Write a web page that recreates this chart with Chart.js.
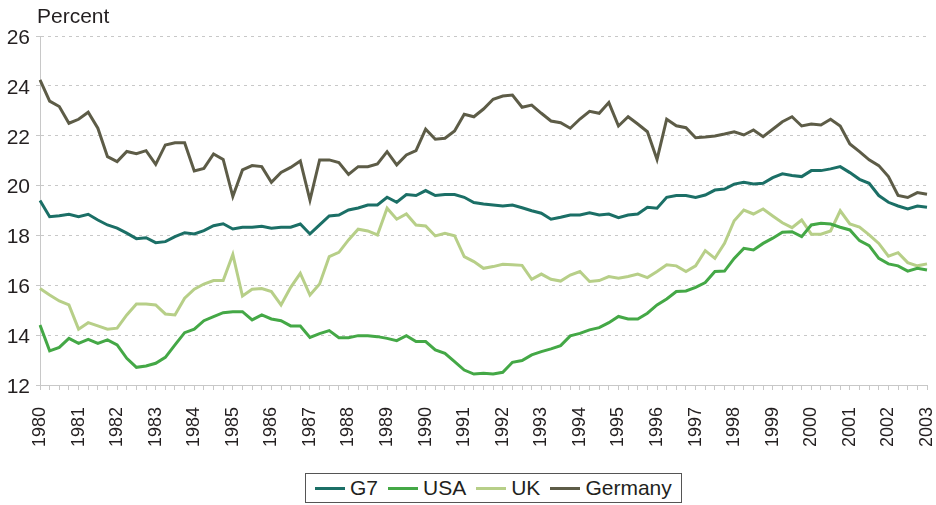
<!DOCTYPE html>
<html>
<head>
<meta charset="utf-8">
<script src="https://cdn.jsdelivr.net/npm/chart.js@4.4.1/dist/chart.umd.min.js"></script>
<style>
  html, body { margin: 0; padding: 0; background: #fff; }
  #wrap { width: 936px; height: 505px; position: relative; }
  .legenda {
    position: absolute; left: 305px; top: 473px; height: 30px; box-sizing: border-box;
    border: 1px solid #555; display: flex; align-items: center; gap: 10px; padding: 0 9px;
    font: 21px 'Liberation Sans', Arial, Helvetica, sans-serif; color: #231f20; background: #fff;
  }
  .legenda .item { display: flex; align-items: center; white-space: nowrap; }
  .legenda .linha { display: inline-block; width: 30px; height: 3px; margin-right: 5px; }
</style>
</head>
<body>
<div id="wrap">
  <canvas id="chart"></canvas>
  <div class="legenda" id="legenda"></div>
</div>
<script>
// Eixo x: trimestres de 1980T1 a 2003T1, rótulo só no primeiro trimestre
const anos = ['1980','1981','1982','1983','1984','1985','1986','1987','1988','1989','1990','1991',
  '1992','1993','1994','1995','1996','1997','1998','1999','2000','2001','2002','2003'];
const yTicks = [12, 14, 16, 18, 20, 22, 24, 26];

// Séries (percentual)
const g7 = [19.40,18.75,18.79,18.85,18.75,18.85,18.62,18.42,18.29,18.09,
  17.87,17.91,17.71,17.75,17.95,18.11,18.06,18.19,18.39,18.47,
  18.26,18.33,18.33,18.37,18.29,18.33,18.33,18.46,18.06,18.42,
  18.78,18.82,19.02,19.10,19.22,19.22,19.53,19.33,19.64,19.60,
  19.80,19.60,19.64,19.64,19.53,19.32,19.26,19.22,19.18,19.22,
  19.11,18.99,18.89,18.65,18.73,18.82,18.82,18.91,18.82,18.86,
  18.71,18.82,18.86,19.13,19.09,19.53,19.60,19.60,19.52,19.62,
  19.82,19.86,20.06,20.13,20.06,20.09,20.32,20.47,20.40,20.36,
  20.60,20.60,20.67,20.76,20.52,20.25,20.09,19.60,19.33,19.18,
  19.06,19.18,19.13];
const usa = [14.41,13.37,13.51,13.87,13.67,13.83,13.67,13.81,13.61,13.07,
  12.71,12.76,12.87,13.11,13.61,14.10,14.24,14.58,14.74,14.90,
  14.94,14.94,14.61,14.81,14.65,14.58,14.37,14.37,13.91,14.06,
  14.18,13.90,13.90,13.98,13.98,13.94,13.87,13.78,13.98,13.74,
  13.74,13.41,13.27,12.94,12.60,12.44,12.47,12.44,12.51,12.91,
  12.98,13.21,13.34,13.45,13.58,13.97,14.07,14.21,14.30,14.50,
  14.75,14.65,14.65,14.88,15.21,15.45,15.75,15.77,15.92,16.11,
  16.55,16.57,17.08,17.48,17.42,17.68,17.89,18.13,18.15,17.95,
  18.42,18.49,18.46,18.33,18.22,17.79,17.59,17.08,16.86,16.78,
  16.57,16.68,16.61];
const uk = [15.87,15.61,15.37,15.21,14.24,14.50,14.37,14.24,14.28,14.81,
  15.25,15.25,15.21,14.85,14.81,15.48,15.84,16.05,16.19,16.19,
  17.24,15.57,15.84,15.87,15.75,15.21,15.92,16.48,15.61,16.05,
  17.15,17.32,17.82,18.25,18.18,18.02,19.09,18.65,18.86,18.42,
  18.38,17.98,18.09,17.99,17.15,16.95,16.68,16.75,16.84,16.82,
  16.80,16.24,16.45,16.24,16.17,16.41,16.55,16.15,16.19,16.35,
  16.28,16.35,16.45,16.31,16.55,16.82,16.78,16.55,16.78,17.39,
  17.08,17.68,18.59,19.02,18.86,19.06,18.78,18.51,18.31,18.62,
  18.05,18.05,18.18,18.99,18.46,18.33,18.02,17.68,17.17,17.31,
  16.91,16.78,16.86];
const germany = [24.24,23.39,23.17,22.50,22.66,22.94,22.30,21.16,20.96,21.37,
  21.28,21.40,20.85,21.63,21.72,21.72,20.59,20.69,21.27,21.05,
  19.56,20.63,20.80,20.76,20.13,20.53,20.73,20.99,19.42,21.03,
  21.03,20.92,20.45,20.76,20.76,20.87,21.36,20.83,21.23,21.40,
  22.26,21.86,21.90,22.19,22.86,22.76,23.07,23.46,23.59,23.63,
  23.14,23.23,22.90,22.59,22.52,22.30,22.67,22.98,22.90,23.33,
  22.39,22.76,22.47,22.16,21.05,22.66,22.40,22.32,21.92,21.95,
  21.99,22.07,22.16,22.03,22.23,21.96,22.26,22.56,22.76,22.39,
  22.47,22.43,22.66,22.39,21.67,21.36,21.03,20.80,20.36,19.60,
  19.52,19.72,19.65];

const labels = [];
anos.forEach((a, i) => {
  const n = i === anos.length - 1 ? 1 : 4;
  for (let q = 0; q < n; q++) labels.push(q === 0 ? a : '');
});

const FONT = "'Liberation Sans', Arial, Helvetica, sans-serif";
const TXT = '#231f20';

// Título "Percent" acima do eixo y
const tituloY = {
  id: 'tituloY',
  afterDraw(chart) {
    const { ctx, chartArea } = chart;
    ctx.save();
    ctx.font = `21px ${FONT}`;
    ctx.fillStyle = TXT;
    ctx.textBaseline = 'alphabetic';
    ctx.fillText('Percent', chartArea.left - 3, chartArea.top - 13);
    ctx.restore();
  }
};

const ds = (label, data, color) => ({
  label, data, borderColor: color, backgroundColor: color,
  borderWidth: 3, pointRadius: 0, tension: 0
});

const chart = new Chart(document.getElementById('chart'), {
  type: 'line',
  data: {
    labels,
    datasets: [
      ds('G7', g7, '#1b6f66'),
      ds('USA', usa, '#44a846'),
      ds('UK', uk, '#b7cf88'),
      ds('Germany', germany, '#5d5c47')
    ]
  },
  options: {
    responsive: true, maintainAspectRatio: false, animation: false,
    layout: { padding: { top: 36, right: 9, bottom: 35, left: 0 } },
    plugins: {
      legend: { display: false },
      tooltip: { enabled: false }
    },
    scales: {
      x: {
        afterFit: s => { s.height = 85; s.paddingLeft = 0; s.paddingRight = 0; },
        grid: { drawOnChartArea: false, tickLength: 5, color: '#c8c8c8' },
        border: { color: '#c8c8c8' },
        ticks: {
          autoSkip: false, minRotation: 90, maxRotation: 90, padding: 17,
          color: TXT, font: { family: FONT, size: 18 },
          callback: (v, i) => labels[i]
        }
      },
      y: {
        min: yTicks[0], max: yTicks[yTicks.length - 1],
        afterFit: s => { s.width = 40; },
        afterBuildTicks: s => { s.ticks = yTicks.map(v => ({ value: v })); },
        grid: { color: '#c8c8c8', tickLength: 4 },
        border: { color: '#c8c8c8', dash: [3, 4] },
        ticks: { padding: 6, labelOffset: 2, color: TXT, font: { family: FONT, size: 21 } }
      }
    }
  },
  plugins: [tituloY]
});

// Legenda em caixa, abaixo do gráfico
document.getElementById('legenda').innerHTML = chart.data.datasets.map(d =>
  `<span class="item"><span class="linha" style="background:${d.borderColor}"></span>${d.label}</span>`
).join('');
</script>
</body>
</html>
